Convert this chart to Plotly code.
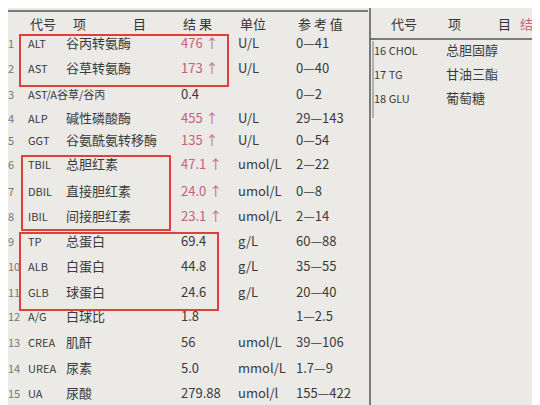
import plotly.graph_objects as go

nums = ["1","2","3","4","5","6","7","8","9","10","11","12","13","14","15"]
codes = ["ALT","AST","AST/A谷草/谷丙","ALP","GGT","TBIL","DBIL","IBIL","TP","ALB","GLB","A/G","CREA","UREA","UA"]
names = ["谷丙转氨酶","谷草转氨酶","","碱性磷酸酶","谷氨酰氨转移酶","总胆红素","直接胆红素","间接胆红素","总蛋白","白蛋白","球蛋白","白球比","肌酐","尿素","尿酸"]
results = ["476 ↑","173 ↑","0.4","455 ↑","135 ↑","47.1 ↑","24.0 ↑","23.1 ↑","69.4","44.8","24.6","1.8","56","5.0","279.88"]
high = [True,True,False,True,True,True,True,True,False,False,False,False,False,False,False]
units = ["U/L","U/L","","U/L","U/L","umol/L","umol/L","umol/L","g/L","g/L","g/L","","umol/L","mmol/L","umol/l"]
refs = ["0—41","0—40","0—2","29—143","0—54","2—22","0—8","2—14","60—88","35—55","20—40","1—2.5","39—106","1.7—9","155—422"]
row_y = [37,62,88,112,134,158,185,210,235,260,286,310,336,362,387]
right_codes = ["16 CHOL","17 TG","18 GLU"]
right_names = ["总胆固醇","甘油三酯","葡萄糖"]
right_y = [44,68,92]
headers_left = ["代号","项","目","结 果","单位","参 考 值"]
headers_left_x = [22,65,125,175,232,290]
headers_right = ["代号","项","目","结"]
headers_right_x = [383,440,490,512]

F = "Noto Sans CJK SC"
INK = "#3a3a3a"
RED = "#c8607a"

fig = go.Figure()
def col(x, y, t, color=INK, size=13):
    fig.add_trace(go.Scatter(x=x, y=y, text=t, mode="text", textposition="middle right",
                             textfont=dict(family=F, size=size, color=color), hoverinfo="skip",
                             cliponaxis=False))

col([0]*len(nums), row_y, nums, "#777", 11)
col([20]*len(codes), row_y, codes, INK, 11)
col([58]*len(names), row_y, names)
col([173]*len(results), row_y, results, [RED if h else INK for h in high])
col([230]*len(units), row_y, units)
col([288]*len(refs), row_y, refs)
col([366]*3, right_y, right_codes, INK, 11)
col([438]*3, right_y, right_names)
col(headers_left_x, [18]*6, headers_left, "#333", 13)
col(headers_right_x, [18]*4, headers_right, ["#333"]*3+[RED], 13)

shapes = [
    dict(type="line", x0=0, x1=360, y0=3, y1=3, line=dict(color="#555", width=1.5)),
    dict(type="line", x0=362, x1=540, y0=31, y1=31, line=dict(color="#555", width=1.5)),
    dict(type="line", x0=362, x1=362, y0=0, y1=405, line=dict(color="#555", width=1.5)),
    dict(type="line", x0=365, x1=365, y0=33, y1=110, line=dict(color="#777", width=1)),
    dict(type="rect", x0=12, x1=220, y0=27, y1=78, line=dict(color="#e0403a", width=2)),
    dict(type="rect", x0=14, x1=162, y0=148, y1=222, line=dict(color="#e0403a", width=2)),
    dict(type="rect", x0=12, x1=210, y0=225, y1=302, line=dict(color="#e0403a", width=2)),
]
fig.update_layout(width=540, height=405, margin=dict(l=0,r=0,t=0,b=0), showlegend=False,
                  paper_bgcolor="#ebeae7", plot_bgcolor="#ebeae7", shapes=shapes,
                  xaxis=dict(range=[0,540], visible=False, fixedrange=True),
                  yaxis=dict(range=[405,0], visible=False, fixedrange=True))
fig.write_html("out.html")
